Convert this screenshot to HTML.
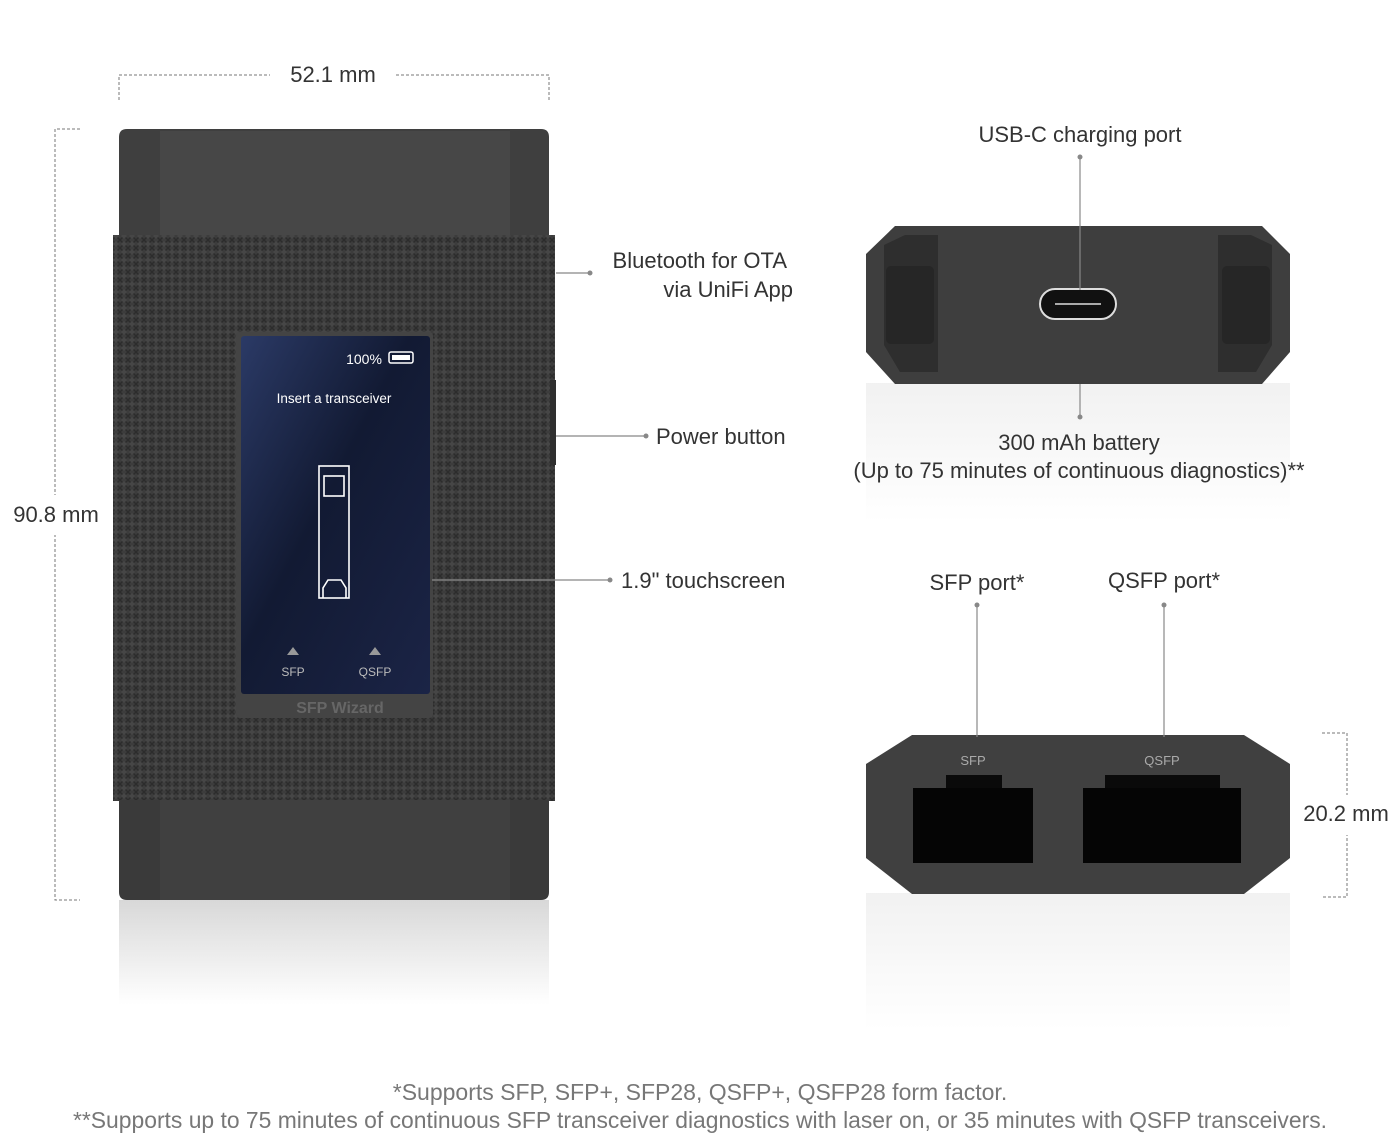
<!DOCTYPE html>
<html><head><meta charset="utf-8"><style>
html,body{margin:0;padding:0;background:#fff}
svg{display:block}
text{font-family:"Liberation Sans",sans-serif}
</style></head><body>
<svg width="1400" height="1148" viewBox="0 0 1400 1148" xmlns="http://www.w3.org/2000/svg">
<defs>
<pattern id="knurl" width="8" height="8" patternUnits="userSpaceOnUse">
<rect width="8" height="8" fill="#3c3c3c"/>
<path d="M0 8L8 0M0 0L8 8" stroke="#2c2c2c" stroke-width="1.4"/>
<path d="M4 1L7 4L4 7L1 4Z" fill="#464646"/>
</pattern>
<linearGradient id="scr" x1="0" y1="0" x2="1" y2="1">
<stop offset="0" stop-color="#2b3a66"/><stop offset="0.45" stop-color="#121a33"/><stop offset="1" stop-color="#1b2446"/>
</linearGradient>
<linearGradient id="refl" x1="0" y1="0" x2="0" y2="1">
<stop offset="0" stop-color="#d8d8d8"/><stop offset="1" stop-color="#fff"/>
</linearGradient>
</defs>

<g stroke="#777" stroke-width="1" fill="none">
<path d="M119 100V75H270" stroke-dasharray="3 2"/>
<path d="M396 75H549V100" stroke-dasharray="3 2"/>
<path d="M80 129H55V900H80" stroke-dasharray="3 2"/>
<path d="M1322 733H1347V897H1322" stroke-dasharray="3 2"/>
</g>
<rect x="8" y="495" width="100" height="40" fill="#fff"/>
<rect x="1295" y="795" width="100" height="40" fill="#fff"/>
<text x="333" y="82" font-size="22" fill="#333" text-anchor="middle">52.1 mm</text>
<text x="56" y="522" font-size="22" fill="#333" text-anchor="middle">90.8 mm</text>
<text x="1346" y="821" font-size="22" fill="#333" text-anchor="middle">20.2 mm</text>

<rect x="119" y="900" width="430" height="105" fill="url(#refl)"/>
<path d="M127 129H541Q549 129 549 137V235H119V137Q119 129 127 129Z" fill="#3f3f3f"/>
<rect x="160" y="131" width="350" height="104" fill="#474747"/>
<rect x="113" y="235" width="442" height="566" fill="url(#knurl)"/>
<rect x="550" y="380" width="6" height="85" fill="#2f2f2f"/>
<path d="M119 800H549V892Q549 900 541 900H127Q119 900 119 892Z" fill="#3a3a3a"/>
<rect x="160" y="800" width="350" height="100" fill="#404040"/>
<rect x="236" y="332" width="197" height="386" rx="4" fill="#444"/>
<rect x="241" y="336" width="189" height="358" rx="3" fill="url(#scr)"/>
<text x="364" y="364" font-size="14" fill="#fff" text-anchor="middle">100%</text>
<rect x="389" y="352" width="24" height="11" rx="2" fill="none" stroke="#fff" stroke-width="1.5"/>
<rect x="392" y="355" width="18" height="5" fill="#fff"/>
<text x="334" y="403" font-size="13.5" fill="#fff" text-anchor="middle">Insert a transceiver</text>
<g fill="none" stroke="#fff" stroke-width="1.6">
<rect x="319" y="466" width="30" height="132"/>
<rect x="324" y="476" width="20" height="20"/>
<path d="M323 598V588L328 580H341L346 588V598"/>
</g>
<path d="M293 647L299 655H287Z" fill="#999"/>
<path d="M375 647L381 655H369Z" fill="#999"/>
<text x="293" y="676" font-size="12" fill="#bbb" text-anchor="middle">SFP</text>
<text x="375" y="676" font-size="12" fill="#bbb" text-anchor="middle">QSFP</text>
<text x="340" y="713" font-size="16" font-weight="bold" fill="#666" text-anchor="middle">SFP Wizard</text>

<!-- top view device -->
<rect x="866" y="383" width="424" height="140" fill="url(#refl)" opacity="0.35"/>
<path d="M895 226H1262L1290 254V352L1262 384H895L866 352V254Z" fill="#3e3e3e"/>
<path d="M884 245L905 235H938V372H900L884 345Z" fill="#2e2e2e"/>
<rect x="886" y="266" width="48" height="78" rx="5" fill="#262626"/>
<path d="M1272 245L1251 235H1218V372H1256L1272 345Z" fill="#2e2e2e"/>
<rect x="1222" y="266" width="48" height="78" rx="5" fill="#262626"/>
<rect x="1040" y="289" width="76" height="30" rx="15" fill="#111" stroke="#ddd" stroke-width="2"/>
<line x1="1055" y1="304" x2="1101" y2="304" stroke="#aaa" stroke-width="2"/>

<!-- bottom view device -->
<rect x="866" y="893" width="424" height="137" fill="url(#refl)" opacity="0.35"/>
<path d="M912 735H1244L1290 764V858L1244 894H912L866 858V764Z" fill="#404040"/>
<text x="973" y="765" font-size="13" fill="#aaa" text-anchor="middle">SFP</text>
<text x="1162" y="765" font-size="13" fill="#aaa" text-anchor="middle">QSFP</text>
<rect x="946" y="775" width="56" height="15" fill="#0a0a0a"/>
<rect x="913" y="788" width="120" height="75" fill="#050505"/>
<rect x="1105" y="775" width="115" height="15" fill="#0a0a0a"/>
<rect x="1083" y="788" width="158" height="75" fill="#050505"/>

<g stroke="#888" stroke-width="1.2">
<line x1="556" y1="273" x2="590" y2="273"/>
<line x1="556" y1="436" x2="646" y2="436"/>
<line x1="432" y1="580" x2="610" y2="580"/>
<line x1="1080" y1="157" x2="1080" y2="290"/>
<line x1="1080" y1="384" x2="1080" y2="417"/>
<line x1="977" y1="605" x2="977" y2="737"/>
<line x1="1164" y1="605" x2="1164" y2="737"/>
</g>
<g fill="#888">
<circle cx="590" cy="273" r="2.5"/><circle cx="646" cy="436" r="2.5"/><circle cx="610" cy="580" r="2.5"/>
<circle cx="1080" cy="157" r="2.5"/><circle cx="1080" cy="417" r="2.5"/>
<circle cx="977" cy="605" r="2.5"/><circle cx="1164" cy="605" r="2.5"/>
</g>
<g font-size="22" fill="#333">
<text x="787" y="268" text-anchor="end">Bluetooth for OTA</text>
<text x="793" y="297" text-anchor="end">via UniFi App</text>
<text x="656" y="444">Power button</text>
<text x="621" y="588">1.9" touchscreen</text>
<text x="1080" y="142" text-anchor="middle">USB-C charging port</text>
<text x="1079" y="450" text-anchor="middle">300 mAh battery</text>
<text x="1079" y="478" text-anchor="middle">(Up to 75 minutes of continuous diagnostics)**</text>
<text x="977" y="590" text-anchor="middle">SFP port*</text>
<text x="1164" y="588" text-anchor="middle">QSFP port*</text>
</g>

<text x="700" y="1100" font-size="23" fill="#777" text-anchor="middle">*Supports SFP, SFP+, SFP28, QSFP+, QSFP28 form factor.</text>
<text x="700" y="1128" font-size="23" fill="#777" text-anchor="middle" textLength="1254" lengthAdjust="spacingAndGlyphs">**Supports up to 75 minutes of continuous SFP transceiver diagnostics with laser on, or 35 minutes with QSFP transceivers.</text>
</svg>
</body></html>
